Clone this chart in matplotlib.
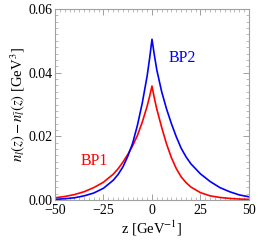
import matplotlib
matplotlib.use('Agg')
import matplotlib.pyplot as plt
import numpy as np
from matplotlib.ticker import MultipleLocator, FormatStrFormatter

plt.rcParams['font.family'] = ['Liberation Serif', 'DejaVu Serif']
plt.rcParams['mathtext.fontset'] = 'stix'

# values (z in GeV^-1)
z = np.array([-50, -45, -40, -35, -30, -25, -20, -17.5, -15, -12.5, -10, -7.5, -5, -2.5, -1.25,
              0, 1.25, 2.5, 5, 7.5, 10, 12.5, 15, 17.5, 20, 25, 30, 35, 40, 45, 50])

bp1 = np.array([0.0007, 0.0011, 0.0017, 0.0026, 0.0039, 0.0056, 0.0081, 0.0098, 0.0119,
                0.0143, 0.0170, 0.0203, 0.0245, 0.0295, 0.0325,
                0.0358, 0.0319, 0.0285, 0.0228, 0.0176, 0.0133, 0.0099, 0.0073, 0.0055,
                0.0041, 0.0023, 0.0013, 0.0008, 0.0005, 0.0003, 0.0002])

bp2 = np.array([0.0002, 0.0004, 0.0007, 0.0013, 0.0022, 0.0037, 0.0062, 0.0080, 0.0104,
                0.0137, 0.0178, 0.0235, 0.0305, 0.0390, 0.0444,
                0.0505, 0.0454, 0.0408, 0.0340, 0.0286, 0.0240, 0.0199, 0.0163, 0.0136,
                0.0114, 0.0082, 0.0058, 0.0039, 0.0026, 0.0016, 0.0010])

fig = plt.figure(figsize=(2.6, 2.44), dpi=100)
ax = fig.add_axes([0.2115, 0.1803, 0.7462, 0.7827])

ax.plot(z, bp1, color='#ff0000', lw=1.2)
ax.plot(z, bp2, color='#0000ff', lw=1.2)

ax.text(-30, 0.0122, 'BP1', color='#ff0000', fontsize=11.5, ha='center', va='center')
ax.text(15.5, 0.0447, 'BP2', color='#0000ff', fontsize=11.5, ha='center', va='center')

ax.set_xlim(-50, 50)
ax.set_ylim(0, 0.06)
ax.xaxis.set_major_locator(MultipleLocator(25))
ax.xaxis.set_minor_locator(MultipleLocator(2.5))
ax.yaxis.set_major_locator(MultipleLocator(0.02))
ax.yaxis.set_minor_locator(MultipleLocator(0.002))
ax.yaxis.set_major_formatter(FormatStrFormatter('%.2f'))

for s in ax.spines.values():
    s.set_color('#a0a0a0')
    s.set_linewidth(0.8)
ax.tick_params(which='both', direction='in', top=True, right=True, color='#a0a0a0',
               labelsize=10)
ax.tick_params(axis='y', pad=2)
ax.tick_params(axis='x', pad=3)
ax.tick_params(which='major', length=4, width=0.7)
ax.tick_params(which='minor', length=2, width=0.5)

ax.set_xlabel(r'z [GeV$^{-1}$]', fontsize=10.5, labelpad=1)
ax.set_ylabel(r'$n_l(z)-n_{\bar{l}}(z)$ [GeV$^3$]', fontsize=10.5, labelpad=1)

fig.savefig('out.png', dpi=100)
